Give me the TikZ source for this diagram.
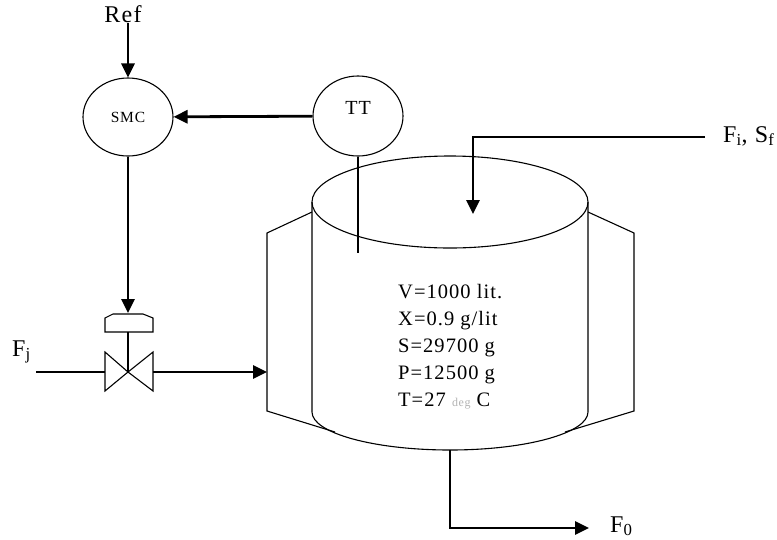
\documentclass[tikz,border=0pt]{standalone}
\usepackage{fontspec}
\setmainfont[LetterSpace=5]{Liberation Serif}
\usetikzlibrary{arrows.meta,shapes.geometric,positioning}

\begin{document}
\begin{tikzpicture}[x=1pt,y=-1pt,
    flow/.style={line width=2.8pt,-{Triangle[length=14pt,width=13pt]}},
    pipe/.style={line width=1.1pt},
    ctrl/.style={draw,ellipse,line width=1.1pt,inner sep=0pt},
    tag/.style={inner sep=0pt,font=\fontsize{24}{24}\selectfont}]
    \useasboundingbox (0,0) rectangle (777,539);

    % Controllers
    \node[ctrl,minimum width=90pt,minimum height=78pt,font=\fontsize{15.5}{15.5}\selectfont] (smc) at (128,117) {SMC};
    \node[ctrl,minimum width=90pt,minimum height=80pt] (tt) at (358,116) {};
    \node[inner sep=0pt,font=\fontsize{20}{20}\selectfont] (ttlabel) at (358,108) {TT};

    % Labels
    \node[tag] (ref) at (123,14) {Ref};
    \node[tag,anchor=base west] (fisf) at (723,142) {F\textsubscript{i}, S\textsubscript{f}};
    \node[tag,anchor=base west] (fj) at (12,356) {F\textsubscript{j}};
    \node[tag,anchor=base west] (fo) at (610,532) {F\textsubscript{0}};

    % Tank
    \coordinate (top) at (450,202);
    \draw[pipe] (top) ellipse [x radius=138, y radius=46];
    \draw[pipe] (312,202) -- (312,412) arc[start angle=180, end angle=0, x radius=138, y radius=38] -- (588,202);
    \coordinate (tbot) at (450,450);

    % Jacket
    \draw[pipe] (312,212) -- (267,233) -- (267,411) -- (335,432);
    \draw[pipe] (588,212) -- (634,233) -- (634,411) -- (565,432);
    \coordinate (jin) at (267,372);

    % Tank data
    \node[anchor=north west,inner sep=0pt,align=left,
          font=\fontsize{20.5}{27}\selectfont] (data) at (398,284) {
    V=1000 lit.\\
    X=0.9 g/lit\\
    S=29700 g\\
    P=12500 g\\
    T=27 {\color{gray!60}\fontsize{12}{12}\selectfont deg} C};

    % Valve
    \coordinate (vc) at (128,372);
    \coordinate (vin) at (105,372);
    \coordinate (vout) at (153,372);
    \coordinate (act) at (128,313);
    \draw[pipe] (vc) -- (105,352) -- (105,391) -- cycle;
    \draw[pipe] (vc) -- (153,352) -- (153,391) -- cycle;
    \draw[pipe] (vc) -- (128,332);
    \draw[pipe] (105,332) -- (105,318) -- (113,314) -- (143,314) -- (153,318) -- (153,332) -- cycle;

    % Signal lines
    \draw[flow] (smc.north |- ref.south) -- (smc.north);
    \draw[flow] (tt) -- (smc);
    \draw[flow] (smc) -- (act);
    \draw[pipe] (tt) -- (358,253);

    % Flows
    \coordinate (fin) at (705,137);
    \coordinate (fturn) at (473,137);
    \coordinate (fdown) at (473,214);
    \draw[flow] (fin) -- (fturn) -- (fdown);
    \coordinate (jstart) at (36,372);
    \draw[pipe] (jstart) -- (vin);
    \draw[flow] (vout) -- (jin);
    \coordinate (oturn) at (450,528);
    \coordinate (oend) at (589,528);
    \draw[flow] (tbot) -- (oturn) -- (oend);
\end{tikzpicture}
\end{document}
